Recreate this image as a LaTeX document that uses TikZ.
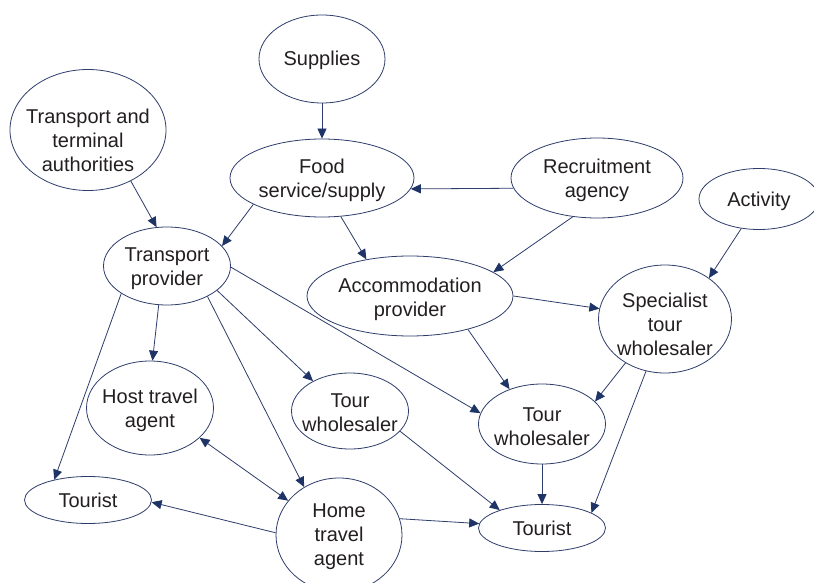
\documentclass[tikz,border=0pt]{standalone}
\usepackage{fontspec}
\setmainfont{Liberation Sans}
\usetikzlibrary{shapes.geometric,arrows.meta}
\definecolor{edgeblue}{HTML}{2E3D6B}
\definecolor{tipblue}{HTML}{1F3466}
\definecolor{txtgray}{HTML}{231F20}
\begin{document}
\begin{tikzpicture}[x=1pt,y=-1pt,
  ell/.style 2 args={ellipse, draw=edgeblue, line width=0.8pt, inner sep=0pt, minimum width=#1pt, minimum height=#2pt},
  lbl/.style={align=center, inner sep=0pt, text=txtgray, font=\fontsize{20}{24}\selectfont},
  arr/.style={draw=edgeblue, line width=0.8pt, -{Triangle[length=10pt,width=9pt,color=tipblue,fill=tipblue]}},
  arrboth/.style={draw=edgeblue, line width=0.8pt, {Triangle[length=10pt,width=9pt,color=tipblue,fill=tipblue]}-{Triangle[length=10pt,width=9pt,color=tipblue,fill=tipblue]}}
]
\useasboundingbox (0,0) rectangle (814,583);
\fill[white] (0,0) rectangle (814,583);

\node[ell={126}{88}] (sup) at (322,59) {};
\node[lbl] (supT) at (322,60) {Supplies};
\node[ell={156}{121}] (tta) at (88,130) {};
\node[lbl] (ttaT) at (88,140) {Transport and\\terminal\\authorities};
\node[ell={184}{78}] (food) at (322,178) {};
\node[lbl] (foodT) at (322,180) {Food\\service/supply};
\node[ell={172}{80}] (rec) at (597,178) {};
\node[lbl] (recT) at (597,180) {Recruitment\\agency};
\node[ell={120}{61}] (act) at (759,199) {};
\node[lbl] (actT) at (759,201) {Activity};
\node[ell={127}{78}] (tp) at (167,266) {};
\node[lbl] (tpT) at (167,269) {Transport\\provider};
\node[ell={206}{80}] (acc) at (410,296) {};
\node[lbl] (accT) at (410,299) {Accommodation\\provider};
\node[ell={133}{108}] (spec) at (665,319) {};
\node[lbl] (specT) at (665,324) {Specialist\\tour\\wholesaler};
\node[ell={127}{94}] (hta) at (150,408) {};
\node[lbl] (htaT) at (150,410) {Host travel\\agent};
\node[ell={117}{76}] (twl) at (350,411) {};
\node[lbl] (twlT) at (350,413) {Tour\\wholesaler};
\node[ell={127}{80}] (twr) at (542,424) {};
\node[lbl] (twrT) at (542,427) {Tour\\wholesaler};
\node[ell={127}{47}] (tl) at (88,500) {};
\node[lbl] (tlT) at (88,500) {Tourist};
\node[ell={127}{47}] (tr) at (542,528) {};
\node[lbl] (trT) at (542,528) {Tourist};
\node[ell={126}{114}] (hom) at (339,535) {};
\node[lbl] (homT) at (339,537) {Home\\travel\\agent};

\draw[arr] (sup.south) -- (food.north);
\draw[arr] (tta.-50) -- (tp.105);
\draw[arr] (food.201.5) -- (tp.20);
\draw[arr] (food.-64) -- (acc.140.7);
\draw[arr] (rec.187.6) -- (food.-7.1);
\draw[arr] (rec.238.4) -- (acc.16.1);
\draw[arr] (act.239) -- (spec.43);
\draw[arr] (acc.0) -- (spec.171.3);
\draw[arr] (acc.-30.8) -- (twr.133.3);
\draw[arr] (spec.228.4) -- (twr.23.6);
\draw[arr] (spec.250.3) -- (tr.17);
\draw[arr] (twr.south) -- (tr.north);
\draw[arr] (tp.211.7) -- (tl.149.6);
\draw[arr] (tp.258.4) -- (hta.87.6);
\draw[arr] (tp.-37.8) -- (hom.126.1);
\draw[arr] (tp.-26.6) -- (twl.141.7);
\draw[arr] (tp.-1.8) -- (twr.170.2);
\draw[arrboth] (hta.-31) -- (hom.146);
\draw[arr] (hom.178) -- (tl.-2.7);
\draw[arr] (hom.15.1) -- (tr.176.4);
\draw[arr] (twl.-22.9) -- (tr.157.1);
\end{tikzpicture}
\end{document}
